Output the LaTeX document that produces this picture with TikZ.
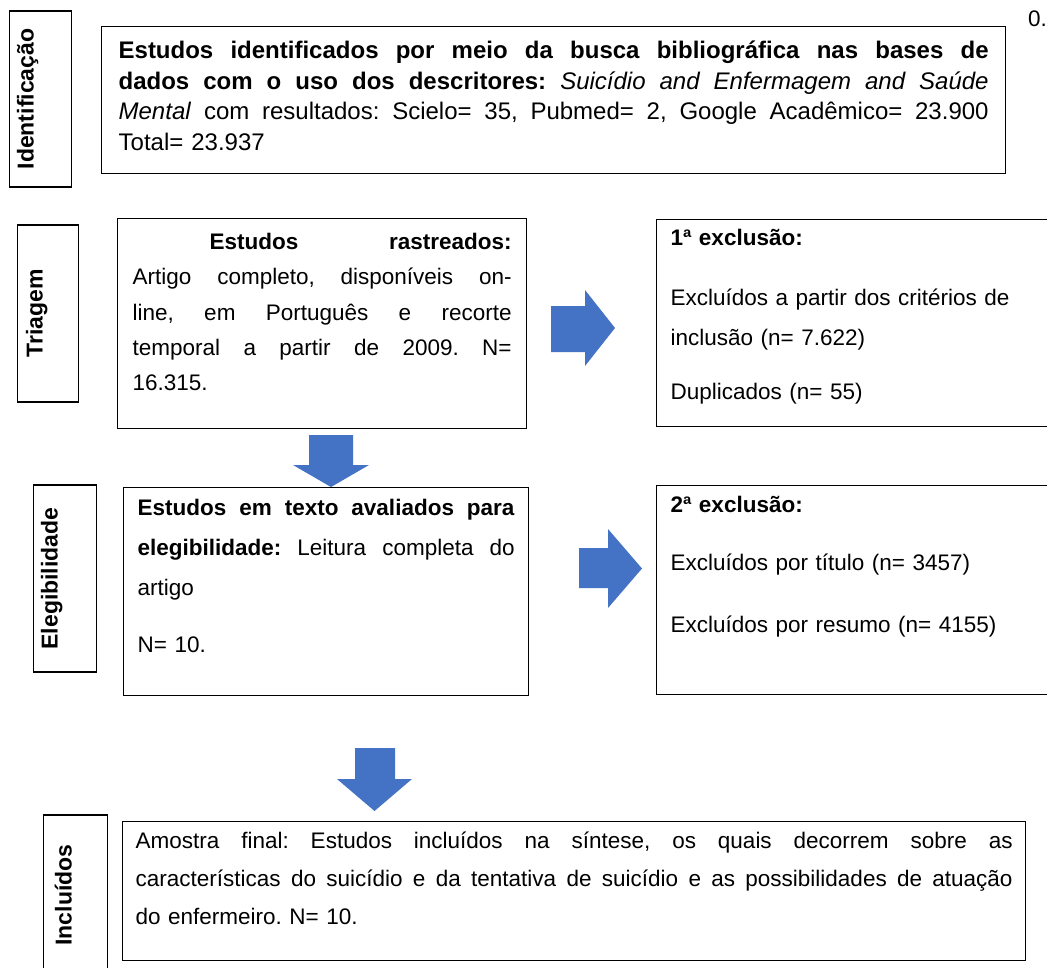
\documentclass[tikz,border=0pt]{standalone}
\usepackage{fontspec}
\setmainfont{Liberation Sans}
\definecolor{arrowblue}{HTML}{4472C4}
\frenchspacing
% one justified line: spaces stretched to the full width
\newcommand{\fillline}[1]{\makebox[\linewidth][s]{\spaceskip=0.278em plus 1fil\xspaceskip=\spaceskip\relax #1}}

\begin{document}
\begin{tikzpicture}[x=1pt, y=-1pt,
    stage/.style={draw, line width=1.3pt, rotate=90, anchor=north, inner sep=0pt,
        font=\fontsize{23}{27}\selectfont\bfseries},
    panel/.style={draw, line width=1.3pt, anchor=north west, inner ysep=0pt, align=left},
    blockarrow/.style={fill=arrowblue}]

    % page: 1047 x 967 px
    \fill[white] (0,0) rectangle (1047,967);
    \useasboundingbox (0,0) rectangle (1047,967);

    % block arrows
    \fill[blockarrow] (551,306) -- (585,306) -- (585,290) -- (615,328) -- (585,366) -- (585,352) -- (551,352) -- cycle;
    \fill[blockarrow] (579,548) -- (608,548) -- (608,529) -- (642,568.5) -- (608,608) -- (608,588) -- (579,588) -- cycle;
    \fill[blockarrow] (309,435) -- (353,435) -- (353,465) -- (369,465) -- (331,487) -- (293,465) -- (309,465) -- cycle;
    \fill[blockarrow] (355,748) -- (395,748) -- (395,779) -- (412,779) -- (374.5,811) -- (337,779) -- (355,779) -- cycle;

    % stage labels
    \node[stage, minimum width=176pt, text height=24pt, text depth=38pt] (identlbl) at (9,99) {Identificação};
    \node[stage, minimum width=177pt, text height=25pt, text depth=36pt] (triaglbl) at (17,313.5) {Triagem};
    \node[stage, minimum width=187pt, text height=24pt, text depth=39pt] (eleglbl) at (33,578.5) {Elegibilidade};
    \node[stage, minimum width=160pt, text height=28pt, text depth=36pt] (incllbl) at (43,895) {Incluídos};

    % identificacao
    \node[panel, text width=870pt, inner xsep=17pt, text height=32pt, text depth=115pt,
        font=\fontsize{24}{30.5}\selectfont] (identbox) at (101,26) {%
        \fillline{\textbf{Estudos identificados por meio da busca bibliográfica nas bases de}}\\
        \fillline{\textbf{dados com o uso dos descritores:} \textit{Suicídio and Enfermagem and Saúde}}\\
        \fillline{\textit{Mental} com resultados: Scielo= 35, Pubmed= 2, Google Acadêmico= 23.900}\\
        Total= 23.937};

    % triagem
    \node[panel, text width=379pt, inner xsep=15pt, text height=31pt, text depth=179pt,
        font=\fontsize{22.5}{35.3}\selectfont] (triagbox) at (117,218) {%
        \fillline{\hspace*{77pt}\textbf{Estudos} \textbf{rastreados:}}\\
        \fillline{Artigo completo, disponíveis on-}\\
        \fillline{line, em Português e recorte}\\
        \fillline{temporal a partir de 2009. N=}\\
        16.315.};

    \node[panel, text width=372pt, inner xsep=14pt, text height=26pt, text depth=181pt,
        font=\fontsize{22.5}{40}\selectfont] (excl1box) at (656,219) {%
        \textbf{1ª exclusão:}\\[20pt]
        Excluídos a partir dos critérios de\\
        inclusão (n= 7.622)\\[14pt]
        Duplicados (n= 55)};

    % elegibilidade
    \node[panel, text width=377pt, inner xsep=14pt, text height=28pt, text depth=180pt,
        font=\fontsize{22.5}{40}\selectfont] (elegbox) at (123,487) {%
        \fillline{\textbf{Estudos em texto avaliados para}}\\
        \fillline{\textbf{elegibilidade:} Leitura completa do}\\
        artigo\\[17pt]
        N= 10.};

    \node[panel, text width=372pt, inner xsep=14pt, text height=27pt, text depth=182pt,
        font=\fontsize{22.5}{40}\selectfont] (excl2box) at (656,485) {%
        \textbf{2ª exclusão:}\\[18pt]
        Excluídos por título (n= 3457)\\[22pt]
        Excluídos por resumo (n= 4155)};

    % incluidos
    \node[panel, text width=877pt, inner xsep=13pt, text height=27pt, text depth=112pt,
        font=\fontsize{22.5}{38}\selectfont] (inclbox) at (122,821) {%
        \fillline{Amostra final: Estudos incluídos na síntese, os quais decorrem sobre as}\\
        \fillline{características do suicídio e da tentativa de suicídio e as possibilidades de atuação}\\
        do enfermeiro. N= 10.};

    \node[anchor=base west, inner sep=0pt, font=\fontsize{22.5}{27}\selectfont] (pagenum) at (1028,26) {0.};

\end{tikzpicture}
\end{document}
